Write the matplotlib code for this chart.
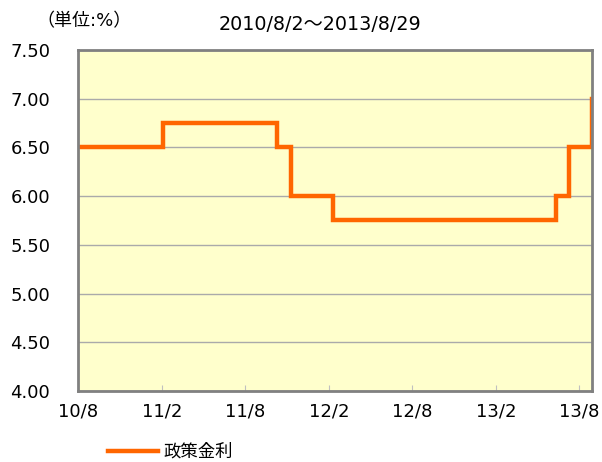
import matplotlib.pyplot as plt
import pandas as pd

plt.rcParams["font.family"] = ["DejaVu Sans", "Noto Sans CJK JP"]

# policy rate change dates and levels (step series)
change_dates = ["2010-08-02", "2011-02-04", "2011-10-11", "2011-11-10",
                "2012-02-09", "2013-06-13", "2013-07-11", "2013-08-29"]
rates = [6.50, 6.75, 6.50, 6.00, 5.75, 6.00, 6.50, 7.00]

tick_dates = ["2010-08-01", "2011-02-01", "2011-08-01", "2012-02-01",
              "2012-08-01", "2013-02-01", "2013-08-01"]
tick_labels = ["10/8", "11/2", "11/8", "12/2", "12/8", "13/2", "13/8"]

title = "2010/8/2～2013/8/29"
unit_label = "（単位:%）"
series_name = "政策金利"


def main() -> None:
    dates = pd.to_datetime(change_dates)
    fig = plt.figure(figsize=(6.02, 4.62), dpi=100)
    ax = fig.add_axes([0.1296, 0.1537, 0.8538, 0.7381])
    ax.set_facecolor("#FFFFCC")

    ax.plot(dates, rates, drawstyle="steps-post", color="#FF6600",
            linewidth=3.2, label=series_name, solid_joinstyle="miter")

    ax.set_ylim(4.0, 7.5)
    ax.set_yticks([4.0 + 0.5 * i for i in range(8)])
    ax.yaxis.set_major_formatter(plt.FuncFormatter(lambda v, _: f"{v:.2f}"))
    ax.set_xlim(pd.Timestamp("2010-08-01"), pd.Timestamp("2013-08-30"))
    ax.set_xticks(pd.to_datetime(tick_dates))
    ax.set_xticklabels(tick_labels)

    ax.grid(axis="y", color="#AAAAAA", linewidth=1.0)
    ax.set_axisbelow(True)
    for spine in ax.spines.values():
        spine.set_color("#808080")
        spine.set_linewidth(2.0)

    ax.tick_params(axis="y", length=0, pad=20, labelsize=13)
    ax.tick_params(axis="x", direction="in", length=4, color="#C0C0C0",
                   pad=8, labelsize=13)

    fig.text(0.532, 0.948, title, ha="center", va="center", fontsize=13.8)
    fig.text(0.14, 0.955, unit_label, ha="center", va="center", fontsize=13)

    fig.legend(loc="center", bbox_to_anchor=(0.283, 0.022), frameon=False,
               fontsize=12.5, handlelength=2.9, handletextpad=0.3)

    fig.savefig("out.png", dpi=100)
    plt.close(fig)


if __name__ == "__main__":
    main()
